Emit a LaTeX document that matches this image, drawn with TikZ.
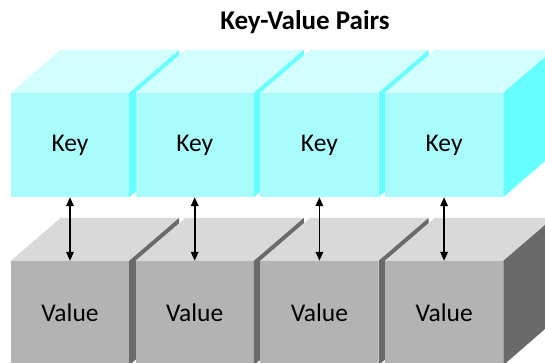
\documentclass[tikz,border=0pt]{standalone}
\usepackage{fontspec}
\setmainfont{Carlito}
\usetikzlibrary{arrows.meta,calc}

\definecolor{keyfront}{HTML}{A8FCFC}
\definecolor{keytop}{HTML}{D2FEFE}
\definecolor{keyside}{HTML}{66FFFF}
\definecolor{valfront}{HTML}{B3B3B3}
\definecolor{valtop}{HTML}{D9D9D9}
\definecolor{valside}{HTML}{6A6A6A}

\begin{document}
\begin{tikzpicture}[x=1pt, y=-1pt, every node/.style={font=\fontsize{25.5}{30}\selectfont},
		face/.style={minimum width=118pt, minimum height=104pt, inner sep=0pt},
		k/.style={face, fill=keyfront},
		v/.style={face, fill=valfront},
		link/.style={line width=1.7pt, {Triangle[length=9pt,width=7.5pt]}-{Triangle[length=9pt,width=7.5pt]}}]
	\clip[use as bounding box] (0,0) rectangle (545,362);
	\node[font=\bfseries\fontsize{27}{32}\selectfont] (title) at (305,22) {Key-Value Pairs};
	% key blocks, drawn left to right so each one hides the previous side face
	\foreach \i in {1,...,4} {
		\node[k] (k\i) at ({70+124.7*(\i-1)},145) {Key};
		\fill[keytop] (k\i.north west) -- ++(50,-43) -- ++(118,0) -- (k\i.north east) -- cycle;
		\fill[keyside] (k\i.north east) -- ++(50,-43) -- ++(0,104) -- (k\i.south east) -- cycle;
	}
	% value blocks
	\foreach \i in {1,...,4} {
		\node[v] (v\i) at ({70+124.7*(\i-1)},313) {Value};
		\fill[valtop] (v\i.north west) -- ++(50,-43) -- ++(118,0) -- (v\i.north east) -- cycle;
		\fill[valside] (v\i.north east) -- ++(50,-43) -- ++(0,104) -- (v\i.south east) -- cycle;
	}
	\foreach \i in {1,...,4}
		\draw[link] (k\i.south) -- (v\i.north);
\end{tikzpicture}
\end{document}
